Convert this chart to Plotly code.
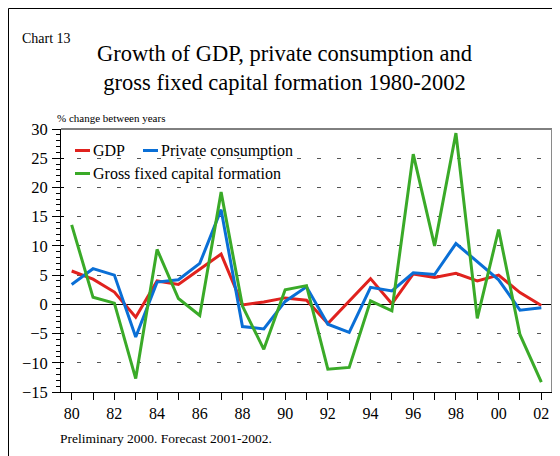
import plotly.graph_objects as go

years = list(range(1980, 2003))
tick_labels = ["80", "", "82", "", "84", "", "86", "", "88", "", "90", "", "92", "", "94", "", "96", "", "98", "", "00", "", "02"]

gdp = [5.7, 4.3, 2.1, -2.2, 4.0, 3.4, 6.0, 8.6, -0.1, 0.4, 1.1, 0.7, -3.3, 0.6, 4.4, 0.1, 5.2, 4.6, 5.3, 4.0, 5.0, 2.0, -0.2]
private_consumption = [3.4, 6.1, 5.0, -5.6, 3.8, 4.2, 7.0, 16.2, -3.8, -4.2, 0.5, 3.0, -3.4, -4.8, 2.9, 2.3, 5.4, 5.1, 10.4, 7.3, 4.2, -1.0, -0.6]
gfcf = [13.6, 1.2, 0.2, -12.7, 9.4, 1.0, -1.9, 19.2, -0.3, -7.7, 2.5, 3.2, -11.1, -10.8, 0.6, -1.1, 25.7, 10.0, 29.3, -2.4, 12.8, -5.2, -13.3]

series_names = ["GDP", "Private consumption", "Gross fixed capital formation"]
series_colors = ["#e0221e", "#0a6fd6", "#3aaa28"]

# page has an 8px body margin; the figure is sized to fit inside the 560x456 window
OFF = 8
W, H = 560 - OFF, 456 - OFF
L, R, T, B = 61 - OFF, 8, 129 - OFF, 64
PW = W - L - R
PH = H - T - B


def px_x(x):
    return (x - OFF - L) / PW


def px_y(y):
    return (H - B - (y - OFF)) / PH


FONT = "Liberation Serif"

fig = go.Figure()
for name, vals, col in zip(series_names, [gdp, private_consumption, gfcf], series_colors):
    fig.add_trace(go.Scatter(x=years, y=vals, mode="lines", name=name,
                             line=dict(color=col, width=3), showlegend=False))

# dummy trace for overlay axis (inside part of crossing ticks)
fig.add_trace(go.Scatter(x=[years[0]], y=[0], yaxis="y2", mode="markers",
                         marker=dict(opacity=0), showlegend=False, hoverinfo="skip"))

fig.update_layout(
    width=W, height=H,
    margin=dict(l=L, r=R, t=T, b=B, autoexpand=False),
    paper_bgcolor="white", plot_bgcolor="white",
    font=dict(family=FONT, color="black"),
    xaxis=dict(range=[1979.5, 2002.5], tickvals=years, ticktext=tick_labels,
               ticks="outside", ticklen=7, tickcolor="black", tickwidth=1,
               showgrid=False, zeroline=False, showline=True, linecolor="black",
               linewidth=1, tickfont=dict(size=16, family=FONT), automargin=False),
    yaxis=dict(range=[-15, 30], tickvals=list(range(-15, 31, 5)),
               ticks="outside", ticklen=8, tickcolor="black", tickwidth=1,
               minor=dict(dtick=1, ticks="outside", ticklen=4, tickcolor="black", showgrid=False),
               showgrid=True, gridcolor="#555555", griddash="0px,16px,4px,0px", gridwidth=1,
               zeroline=True, zerolinecolor="black", zerolinewidth=1,
               showline=True, linecolor="black", linewidth=1,
               tickfont=dict(size=16.5, family=FONT), ticklabelstandoff=1, automargin=False),
    yaxis2=dict(range=[-15, 30], overlaying="y", side="left", tickvals=list(range(-15, 31, 5)),
                ticks="inside", ticklen=3, tickcolor="black", showticklabels=False,
                showgrid=False, zeroline=False, showline=False, automargin=False),
)

shapes = []
# outer frame
shapes.append(dict(type="rect", xref="paper", yref="paper",
                   x0=px_x(8.5), x1=px_x(575), y0=px_y(470), y1=px_y(8.5),
                   line=dict(color="black", width=1), fillcolor="rgba(0,0,0,0)", layer="below"))
# top border of plot
shapes.append(dict(type="line", xref="paper", yref="paper", x0=0, x1=1, y0=1, y1=1,
                   line=dict(color="black", width=1)))
# right border (grey)
shapes.append(dict(type="line", xref="paper", yref="paper", x0=1, x1=1, y0=0, y1=1,
                   line=dict(color="#8a8a8a", width=2)))
# legend background
shapes.append(dict(type="rect", xref="paper", yref="paper",
                   x0=px_x(62), x1=px_x(328), y0=px_y(184), y1=px_y(136),
                   line=dict(width=0), fillcolor="white", layer="between"))
# legend samples
legend_pos = [(75, 150.5), (143, 150.5), (75, 173.5)]
for (lx, ly), col in zip(legend_pos, series_colors):
    shapes.append(dict(type="line", xref="paper", yref="paper",
                       x0=px_x(lx), x1=px_x(lx + 15), y0=px_y(ly), y1=px_y(ly),
                       line=dict(color=col, width=3)))

annotations = []
for (lx, ly), name in zip(legend_pos, series_names):
    annotations.append(dict(text=name, xref="paper", yref="paper", x=px_x(lx + 16), y=px_y(ly),
                            xanchor="left", yanchor="middle", showarrow=False,
                            font=dict(size=16, family=FONT)))

annotations.append(dict(text="Chart 13", xref="paper", yref="paper", x=px_x(20), y=px_y(38),
                        xanchor="left", yanchor="middle", showarrow=False, font=dict(size=14, family=FONT)))
annotations.append(dict(text="Growth of GDP, private consumption and<br>gross fixed capital formation 1980-2002",
                        xref="paper", yref="paper", x=px_x(284), y=px_y(68),
                        xanchor="center", yanchor="middle", showarrow=False,
                        font=dict(size=22.5, family=FONT)))
annotations.append(dict(text="% change between years", xref="paper", yref="paper", x=px_x(55), y=px_y(118),
                        xanchor="left", yanchor="middle", showarrow=False, font=dict(size=11, family=FONT)))
annotations.append(dict(text="Preliminary 2000. Forecast 2001-2002.", xref="paper", yref="paper",
                        x=px_x(58), y=px_y(438), xanchor="left", yanchor="middle", showarrow=False,
                        font=dict(size=13.5, family=FONT)))

fig.update_layout(shapes=shapes, annotations=annotations)
fig.write_html("out.html")
